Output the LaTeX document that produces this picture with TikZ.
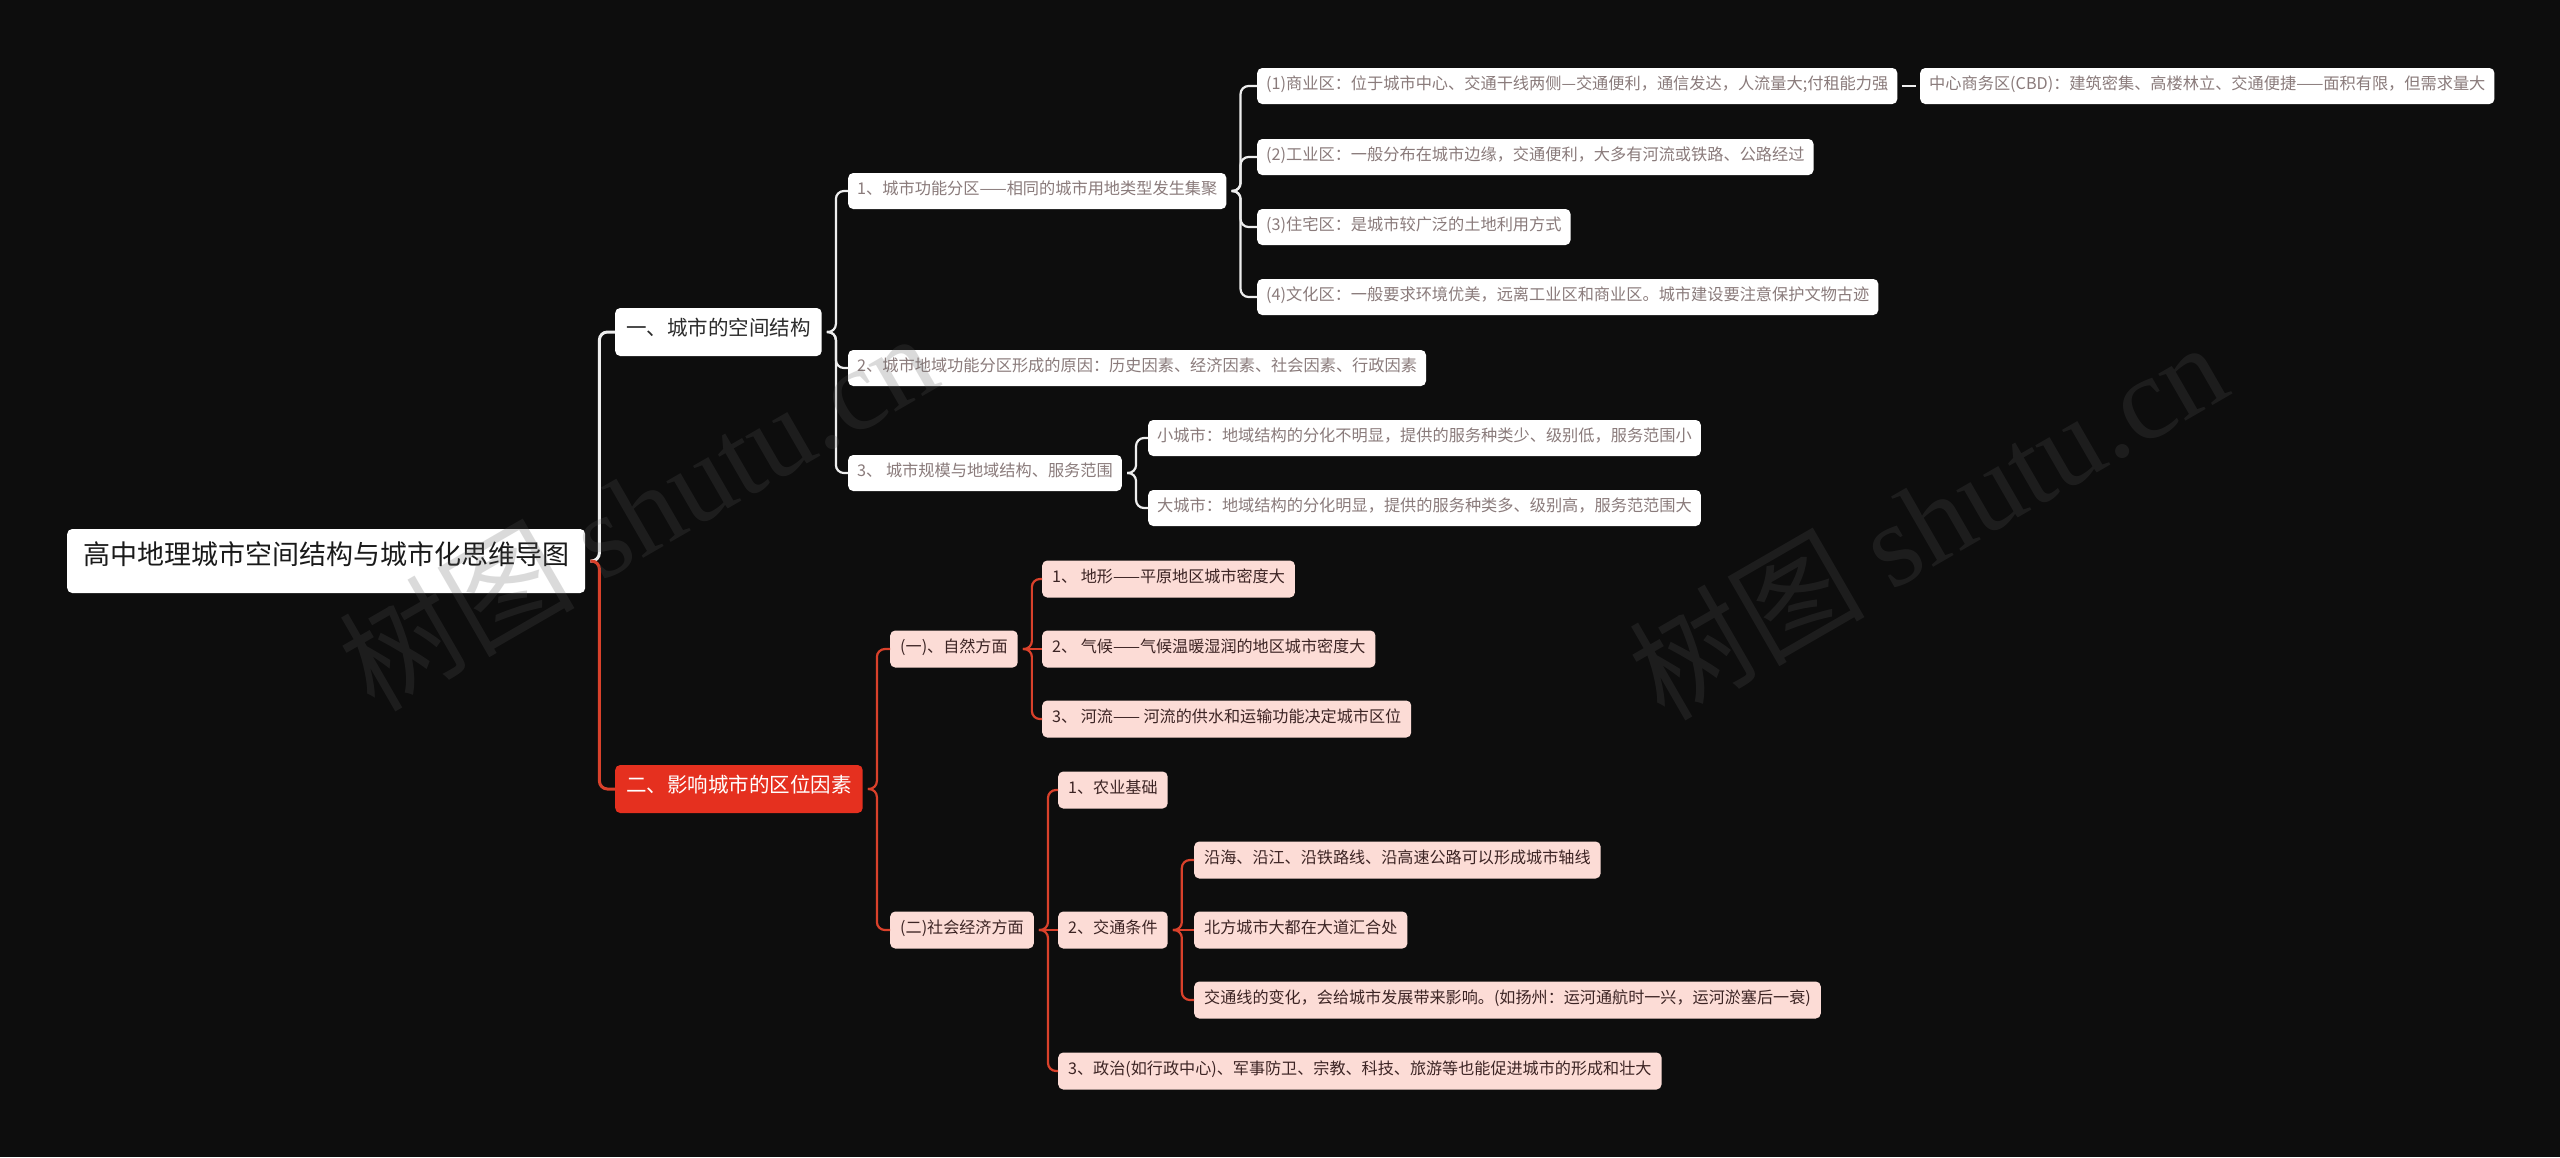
\documentclass[tikz,border=0pt]{standalone}
\usepackage{fontspec}
\setmainfont{Noto Sans CJK SC}
\newfontfamily\wmcjk{Noto Sans CJK SC}
\newfontfamily\wmlat{Liberation Serif}
\usetikzlibrary{calc}
\definecolor{bgc}{HTML}{0D0D0D}
\definecolor{roottext}{HTML}{1A1A1A}
\definecolor{onetext}{HTML}{2B2B2B}
\definecolor{greytext}{HTML}{8A7B7B}
\definecolor{redfill}{HTML}{E5301F}
\definecolor{pinkfill}{HTML}{FCDCD6}
\definecolor{pinktext}{HTML}{3C2424}
\definecolor{whiteconn}{HTML}{EEEEEE}
\definecolor{redconn}{HTML}{D9412B}
\definecolor{wmgrey}{HTML}{5A5A5A}
\newcommand\mybrace[3]{\draw[#3,rounded corners=8pt] ($(#1.east)+(5,0)$) -- ++(9,0) |- (#2.west);}
\newcommand\mystraight[3]{\draw[#3] ($(#1.east)+(5,0)$) -- (#2.west);}
\begin{document}
\begin{tikzpicture}[x=1pt,y=-1pt,
  box/.style={rounded corners=5pt, anchor=west, inner ysep=0pt, text height=0.83em, text depth=0.07em},
  rootbox/.style={box, fill=white, text=roottext, font=\fontsize{27}{32}\selectfont, inner xsep=16pt, minimum height=64pt},
  whiteone/.style={box, fill=white, text=onetext, font=\fontsize{20.5}{24}\selectfont, inner xsep=11pt, minimum height=48pt},
  redone/.style={box, fill=redfill, text=white, font=\fontsize{20.5}{24}\selectfont, inner xsep=11pt, minimum height=48pt},
  whitesmall/.style={box, fill=white, text=greytext, font=\fontsize{16.2}{19}\selectfont, inner xsep=9pt, minimum height=36pt},
  pinksmall/.style={box, fill=pinkfill, text=pinktext, font=\fontsize{16.1}{19}\selectfont, inner xsep=10pt, minimum height=37pt},
  wconnbig/.style={draw=whiteconn, line width=3pt},
  rconnbig/.style={draw=redconn, line width=3pt},
  wconn/.style={draw=whiteconn, line width=2.2pt},
  rconn/.style={draw=redconn, line width=2.2pt},
  wm/.style={text=wmgrey, opacity=0.22, font=\fontsize{118}{130}\selectfont, inner sep=0pt, rotate=30}
]
\useasboundingbox (0,0) rectangle (2560,1157);
\fill[bgc] (0,0) rectangle (2560,1157);

% root
\node[rootbox] (root) at (67,561) {高中地理城市空间结构与城市化思维导图};

% branch 1
\node[whiteone] (b1) at (615,332) {一、城市的空间结构};
\node[whitesmall] (a1) at (848,191) {1、城市功能分区——相同的城市用地类型发生集聚};
\node[whitesmall] (a2) at (848,368) {2、城市地域功能分区形成的原因：历史因素、经济因素、社会因素、行政因素};
\node[whitesmall] (a3) at (848,473) {3、 城市规模与地域结构、服务范围};
\node[whitesmall] (c1) at (1257,86) {(1)商业区：位于城市中心、交通干线两侧—交通便利，通信发达，人流量大;付租能力强};
\node[whitesmall] (cbd) at (1920,86) {中心商务区(CBD)：建筑密集、高楼林立、交通便捷——面积有限，但需求量大};
\node[whitesmall] (c2) at (1257,157) {(2)工业区：一般分布在城市边缘，交通便利，大多有河流或铁路、公路经过};
\node[whitesmall] (c3) at (1257,227) {(3)住宅区：是城市较广泛的土地利用方式};
\node[whitesmall] (c4) at (1257,297) {(4)文化区：一般要求环境优美，远离工业区和商业区。城市建设要注意保护文物古迹};
\node[whitesmall] (d1) at (1148,438) {小城市：地域结构的分化不明显，提供的服务种类少、级别低，服务范围小};
\node[whitesmall] (d2) at (1148,508) {大城市：地域结构的分化明显，提供的服务种类多、级别高，服务范范围大};

% branch 2
\node[redone] (b2) at (615,789) {二、影响城市的区位因素};
\node[pinksmall] (e1) at (890,649) {(一)、自然方面};
\node[pinksmall] (f1) at (1042,579) {1、 地形——平原地区城市密度大};
\node[pinksmall] (f2) at (1042,649) {2、 气候——气候温暖湿润的地区城市密度大};
\node[pinksmall] (f3) at (1042,719) {3、 河流—— 河流的供水和运输功能决定城市区位};
\node[pinksmall] (e2) at (890,930) {(二)社会经济方面};
\node[pinksmall] (g1) at (1058,790) {1、农业基础};
\node[pinksmall] (g2) at (1058,930) {2、交通条件};
\node[pinksmall] (g3) at (1058,1071) {3、政治(如行政中心)、军事防卫、宗教、科技、旅游等也能促进城市的形成和壮大};
\node[pinksmall] (h1) at (1194,860) {沿海、沿江、沿铁路线、沿高速公路可以形成城市轴线};
\node[pinksmall] (h2) at (1194,930) {北方城市大都在大道汇合处};
\node[pinksmall] (h3) at (1194,1000) {交通线的变化，会给城市发展带来影响。(如扬州：运河通航时一兴，运河淤塞后一衰)};

% connectors
\mybrace{root}{b1}{wconnbig}
\mybrace{root}{b2}{rconnbig}
\mybrace{b1}{a1}{wconn}
\mybrace{b1}{a2}{wconn}
\mybrace{b1}{a3}{wconn}
\mybrace{a1}{c1}{wconn}
\mybrace{a1}{c2}{wconn}
\mybrace{a1}{c3}{wconn}
\mybrace{a1}{c4}{wconn}
\draw[wconn] ($(c1.east)+(4,0)$) -- ($(cbd.west)+(-4,0)$);
\mybrace{a3}{d1}{wconn}
\mybrace{a3}{d2}{wconn}
\mybrace{b2}{e1}{rconn}
\mybrace{b2}{e2}{rconn}
\mybrace{e1}{f1}{rconn}
\mystraight{e1}{f2}{rconn}
\mybrace{e1}{f3}{rconn}
\mybrace{e2}{g1}{rconn}
\mystraight{e2}{g2}{rconn}
\mybrace{e2}{g3}{rconn}
\mybrace{g2}{h1}{rconn}
\mystraight{g2}{h2}{rconn}
\mybrace{g2}{h3}{rconn}

% watermarks
\node[wm] (wm1) at (637,510) {{\wmcjk 树图} {\wmlat shutu.cn}};
\node[wm] (wm2) at (1927,519) {{\wmcjk 树图} {\wmlat shutu.cn}};
\end{tikzpicture}
\end{document}
